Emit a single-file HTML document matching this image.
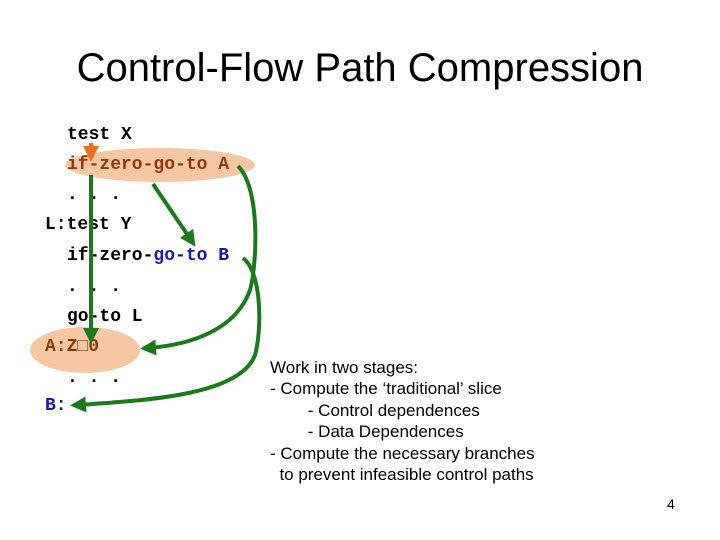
<!DOCTYPE html>
<html><head><style>
body{margin:0;background:#fff;}
.p{position:relative;width:720px;height:540px;overflow:hidden;font-family:"Liberation Sans",sans-serif;}
.t{position:absolute;left:0;width:720px;text-align:center;top:46px;font-size:40px;}
.m{position:absolute;font-family:"Liberation Mono",monospace;font-weight:bold;font-size:18px;white-space:pre;line-height:20px;}
.r{position:absolute;left:270px;font-size:17px;white-space:pre;line-height:20px;}
</style></head><body><div class="p">
<div class="t">Control-Flow Path Compression</div>
<svg width="720" height="540" style="position:absolute;left:0;top:0">
<ellipse cx="160" cy="165" rx="95" ry="17" fill="#f7c6a3"/>
<ellipse cx="85" cy="350" rx="55" ry="23" fill="#f7c6a3"/>
</svg>
<div class="m" style="left:67px;top:125px">test X</div>
<div class="m" style="left:67px;top:155px;color:#8b3a0f">if-zero-go-to A</div>
<div class="m" style="left:67px;top:185px">. . .</div>
<div class="m" style="left:45px;top:215px">L:test Y</div>
<div class="m" style="left:67px;top:246px">if-zero-<span style="color:#1a1aa0">go-to B</span></div>
<div class="m" style="left:67px;top:277px">. . .</div>
<div class="m" style="left:67px;top:307px">go-to L</div>
<div class="m" style="left:45px;top:337px;color:#8b3a0f">A:Z□0</div>
<div class="m" style="left:67px;top:368px">. . .</div>
<div class="m" style="left:45px;top:396px;color:#1a1aa0">B:</div>
<svg width="720" height="540" style="position:absolute;left:0;top:0">
<defs>
<marker id="g" markerWidth="4" markerHeight="4" refX="2" refY="2" orient="auto"><path d="M0,0L4,2L0,4z" fill="#1a7a1a"/></marker>
<marker id="o" markerWidth="4" markerHeight="4" refX="2" refY="2" orient="auto"><path d="M0,0L4,2L0,4z" fill="#f07020"/></marker>
</defs>
<g stroke="#1a7a1a" stroke-width="4" fill="none">
<line x1="91" y1="175" x2="91" y2="336" marker-end="url(#g)"/>
<line x1="153" y1="184" x2="191" y2="240" marker-end="url(#g)"/>
<path d="M238,166 C262,190 256,270 250,290 C236,330 190,345 148,348" marker-end="url(#g)"/>
<path d="M243,258 C262,272 262,330 255,355 C240,395 150,400 78,405" marker-end="url(#g)"/>
</g>
<line x1="91" y1="143" x2="91" y2="154" stroke="#f07020" stroke-width="4" marker-end="url(#o)"/>
</svg>
<div class="r" style="top:358px">Work in two stages:</div>
<div class="r" style="top:379px">- Compute the ‘traditional’ slice</div>
<div class="r" style="top:401px">        - Control dependences</div>
<div class="r" style="top:422px">        - Data Dependences</div>
<div class="r" style="top:444px">- Compute the necessary branches</div>
<div class="r" style="top:465px">  to prevent infeasible control paths</div>
<div style="position:absolute;left:667px;top:496px;font-size:14px">4</div>
</div></body></html>
